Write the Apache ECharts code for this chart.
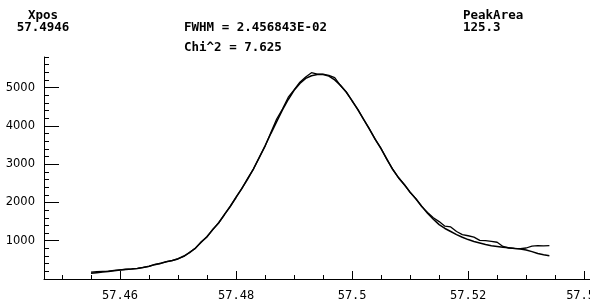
<!DOCTYPE html>
<html>
<head>
<meta charset="utf-8">
<script src="https://cdn.jsdelivr.net/npm/echarts@6/dist/echarts.min.js"></script>
<style>
html,body{margin:0;padding:0;background:#fff;}
#chart{width:590px;height:307px;}
</style>
</head>
<body>
<div id="chart"></div>
<script>
// ---- data ----
const xPos = [];
for (let i = 0; i <= 79; i++) xPos.push(+(57.455 + i * 0.001).toFixed(3));

const fitCounts = [
 150,165,180,198,215,235,248,260,275,300,
 335,375,412,450,485,525,600,690,810,960,
 1110,1290,1470,1680,1900,2130,2370,2610,2880,3170,
 3480,3800,4110,4420,4690,4930,5110,5240,5310,5340,
 5340,5300,5200,5060,4880,4660,4420,4170,3910,3650,
 3400,3130,2860,2650,2460,2270,2090,1900,1720,1560,
 1420,1320,1240,1160,1090,1030,980,940,900,870,
 850,830,815,800,785,760,715,665,635,610
];
const dataCounts = [
 180,190,200,205,225,240,255,262,280,305,
 330,380,405,455,480,530,590,700,800,975,
 1100,1300,1460,1690,1890,2140,2360,2630,2870,3180,
 3470,3830,4180,4440,4750,4940,5140,5280,5390,5350,
 5350,5320,5260,5050,4890,4650,4430,4160,3920,3640,
 3410,3120,2870,2640,2470,2260,2100,1890,1740,1600,
 1500,1380,1360,1240,1160,1130,1095,1010,1000,985,
 960,850,810,800,795,810,860,870,868,870
];
const xMajorTicks = [57.46, 57.48, 57.50, 57.52, 57.54];
const xMinorTicks = [57.45, 57.455, 57.465, 57.47, 57.475, 57.485, 57.49, 57.495,
                     57.505, 57.51, 57.515, 57.525, 57.53, 57.535];
const yMajorTicks = [1000, 2000, 3000, 4000, 5000];
const yMinorTicks = [];
for (let v = 200; v <= 5800; v += 200) if (v % 1000 !== 0) yMinorTicks.push(v);

const headerTexts = {
  xposLabel: 'Xpos', xposValue: '57.4946',
  fwhm: 'FWHM = 2.456843E-02', chi: 'Chi^2 = 7.625',
  areaLabel: 'PeakArea', areaValue: '125.3'
};

const fitSeries = xPos.map((x, i) => [x, fitCounts[i]]);
const dataSeries = xPos.map((x, i) => [x, dataCounts[i]]);

const chart = echarts.init(document.getElementById('chart'), null, {renderer: 'canvas'});
const X_MIN = 57.4469, X_MAX = 57.5410;
const monoFont = '"DejaVu Sans Mono", monospace';
const headStyle = {fill: '#000', font: 'bold 12.5px "DejaVu Sans Mono", monospace', textVerticalAlign: 'middle'};

chart.setOption({
  animation: false,
  backgroundColor: '#fff',
  grid: {left: 44, top: 57, right: 0, bottom: 28, containLabel: false, outerBoundsMode: 'none'},
  xAxis: [{
    type: 'value', min: X_MIN, max: X_MAX,
    axisLine: {show: true, onZero: false, lineStyle: {color: '#000', width: 1}},
    axisTick: {show: true, inside: true, length: 8, customValues: xMajorTicks, lineStyle: {color: '#000'}},
    axisLabel: {show: true, customValues: xMajorTicks, margin: 11, color: '#000',
      fontFamily: monoFont, fontSize: 12,
      formatter: v => String(+(+v).toFixed(2))},
    splitLine: {show: false}
  }, {
    type: 'value', min: X_MIN, max: X_MAX, position: 'bottom',
    axisLine: {show: false},
    axisTick: {show: true, inside: true, length: 4, customValues: xMinorTicks, lineStyle: {color: '#000'}},
    axisLabel: {show: false},
    splitLine: {show: false}
  }],
  yAxis: [{
    type: 'value', min: 0, max: 5800,
    axisLine: {show: true, onZero: false, lineStyle: {color: '#000', width: 1}},
    axisTick: {show: true, inside: true, length: 15, customValues: yMajorTicks, lineStyle: {color: '#000'}},
    axisLabel: {show: true, customValues: yMajorTicks, margin: 9, color: '#000',
      fontFamily: '"DejaVu Sans", sans-serif', fontSize: 11.5, padding: [6, 0, 0, 0],
      formatter: v => String(Math.round(v))},
    splitLine: {show: false}
  }, {
    type: 'value', min: 0, max: 5800, position: 'left',
    axisLine: {show: false},
    axisTick: {show: true, inside: true, length: 5, customValues: yMinorTicks, lineStyle: {color: '#000'}},
    axisLabel: {show: false},
    splitLine: {show: false}
  }],
  series: [{
    name: 'fit', type: 'line', data: fitSeries, xAxisIndex: 0, yAxisIndex: 0,
    showSymbol: false, smooth: false,
    lineStyle: {color: '#000', width: 1.5}
  }, {
    name: 'data', type: 'line', data: dataSeries, xAxisIndex: 0, yAxisIndex: 0,
    showSymbol: false, smooth: false,
    lineStyle: {color: '#000', width: 1.3}
  }],
  graphic: [
    {type: 'text', x: 43, y: 15.5, style: Object.assign({text: headerTexts.xposLabel, textAlign: 'center'}, headStyle)},
    {type: 'text', x: 43, y: 28, style: Object.assign({text: headerTexts.xposValue, textAlign: 'center'}, headStyle)},
    {type: 'text', x: 184, y: 28, style: Object.assign({text: headerTexts.fwhm, textAlign: 'left'}, headStyle)},
    {type: 'text', x: 184, y: 48, style: Object.assign({text: headerTexts.chi, textAlign: 'left'}, headStyle)},
    {type: 'text', x: 463, y: 15.5, style: Object.assign({text: headerTexts.areaLabel, textAlign: 'left'}, headStyle)},
    {type: 'text', x: 463, y: 28, style: Object.assign({text: headerTexts.areaValue, textAlign: 'left'}, headStyle)}
  ]
});
</script>
</body>
</html>
